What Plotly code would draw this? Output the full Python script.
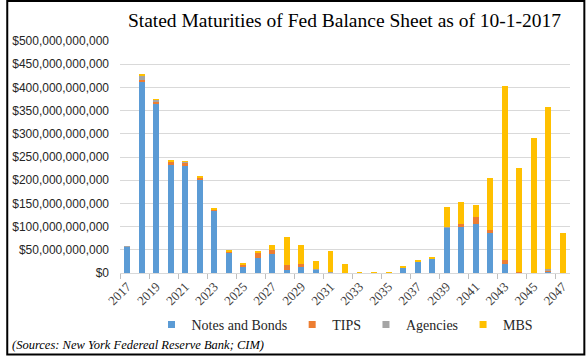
import plotly.graph_objects as go

years = [str(y) for y in range(2017, 2048)]
# values in billions of dollars
notes_bonds = [57, 413, 366, 232, 231, 201, 135, 45, 12, 32, 40, 7, 12, 8, 2, 0, 0, 0, 0, 11, 24, 31, 99, 100, 105, 88, 19, 0.5, 0, 4, 0]
tips = [0, 3, 2, 8, 8, 4, 2, 1, 7, 11, 9, 10, 8, 0, 0, 0, 0, 0, 0, 0, 0, 0, 0, 5, 16, 4, 10, 2, 0, 2, 0]
agencies = [1, 10, 6, 1, 0.5, 0.5, 0.5, 1, 0, 0, 0, 0, 0, 1, 1, 0, 0, 0, 0, 1, 1, 1, 1, 0, 0, 0, 0, 0, 0, 3, 0]
mbs = [0, 2, 1, 1.5, 1, 3, 1, 2, 3, 4.5, 12, 60, 40, 16, 45, 19, 1.5, 1.5, 1.5, 1, 2, 2, 43, 48, 26, 113, 373, 224, 292, 348, 87]

series = [
    ("Notes and Bonds", notes_bonds, "#5B9BD5"),
    ("TIPS", tips, "#ED7D31"),
    ("Agencies", agencies, "#A5A5A5"),
    ("MBS", mbs, "#FFC000"),
]

W, H = 586, 356
ML, MR, MT, MB = 115, 16, 41, 83
PW, PH = W - ML - MR, H - MT - MB

def px_x(p):
    return (p - ML) / PW

def px_y(p):
    return (H - MB - p) / PH

fig = go.Figure()
for name, vals, color in series:
    fig.add_trace(go.Bar(
        x=years, y=[v * 1e9 for v in vals], name=name,
        marker=dict(color=color, line=dict(width=0)),
        showlegend=False,
    ))
for name, vals, color in series:
    fig.add_trace(go.Scatter(
        x=[None], y=[None], mode="markers", name=name,
        marker=dict(symbol="square", size=7, color=color),
        showlegend=True,
    ))

fig.update_layout(
    width=W, height=H,
    margin=dict(l=ML, r=MR, t=MT, b=MB),
    paper_bgcolor="white", plot_bgcolor="white",
    barmode="stack", bargap=0.59,
    title=dict(
        text="Stated Maturities of Fed Balance Sheet as of 10-1-2017",
        font=dict(family="Liberation Serif", size=19.5, color="black"),
        x=px_x(342), xref="paper", xanchor="center",
        y=(H - 20) / H, yref="container", yanchor="middle",
    ),
    legend=dict(
        orientation="h", x=0.5, xanchor="center",
        y=px_y(325), yanchor="middle", traceorder="normal",
        font=dict(family="Liberation Serif", size=14, color="#262626"),
        itemwidth=30, tracegroupgap=0, bgcolor="rgba(0,0,0,0)",
    ),
    xaxis=dict(
        type="category", tickangle=-45, dtick=2,
        tickson="boundaries", ticks="outside", ticklen=5, tickcolor="#bfbfbf",
        showline=True, linecolor="#d9d9d9", linewidth=1,
        showgrid=False,
        tickfont=dict(family="Liberation Serif", size=13, color="#404040"),
    ),
    yaxis=dict(
        range=[0, 500e9], dtick=50e9, tick0=0,
        tickformat="$,.0f",
        showgrid=True, gridcolor="#d9d9d9", gridwidth=1,
        zeroline=False, showline=False,
        ticklabelstandoff=10,
        tickfont=dict(family="Liberation Sans", size=12, color="#262626"),
    ),
    annotations=[dict(
        text="<i>(Sources: New York Federeal Reserve Bank; CIM)</i>",
        xref="paper", yref="paper", x=px_x(4), y=px_y(345),
        xanchor="left", yanchor="middle", showarrow=False,
        font=dict(family="Liberation Serif", size=12.5, color="black"),
    )],
    shapes=[dict(
        type="rect", xref="paper", yref="paper",
        x0=px_x(1), x1=px_x(584.5), y0=px_y(354.5), y1=px_y(1),
        line=dict(color="black", width=2), fillcolor="rgba(0,0,0,0)",
        layer="above",
    )],
)

fig.write_html(
    "out.html",
    config={"displayModeBar": False},
    post_script="document.body.style.margin='0';document.body.style.padding='0';",
)
